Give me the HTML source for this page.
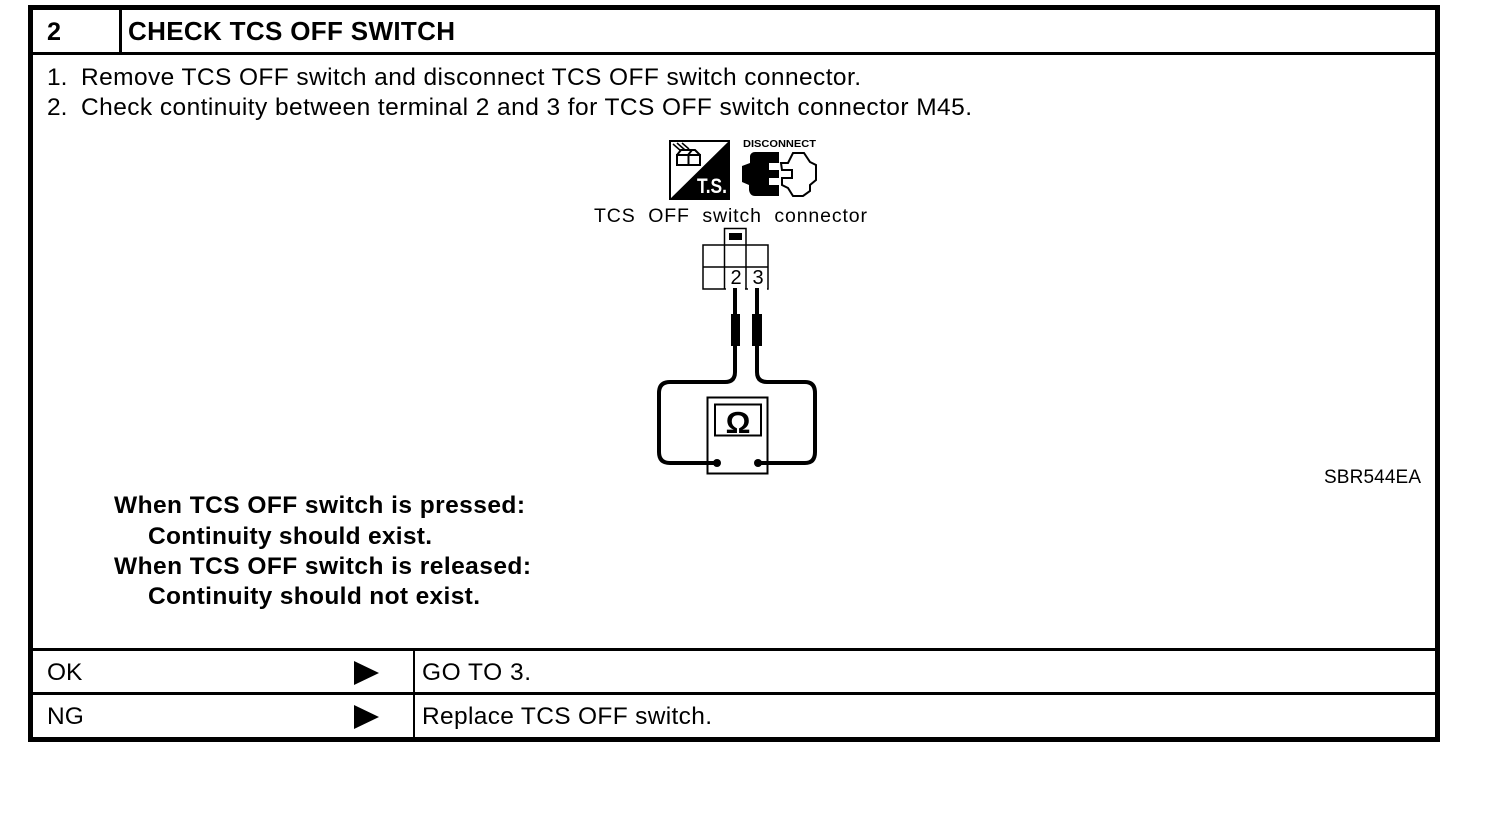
<!DOCTYPE html>
<html>
<head>
<meta charset="utf-8">
<style>
html,body{margin:0;padding:0;background:#fff;width:1504px;height:840px;overflow:hidden}
svg{display:block}
text{font-family:"Liberation Sans",sans-serif;fill:#000}
.b{font-weight:bold}
</style>
</head>
<body>
<svg width="1504" height="840" viewBox="0 0 1504 840" xmlns="http://www.w3.org/2000/svg">
<rect x="30.5" y="7.5" width="1407" height="732" fill="none" stroke="#000" stroke-width="5"/>
<rect x="31" y="52" width="1406" height="3"/>
<rect x="119" y="8" width="3" height="45"/>
<rect x="31" y="648" width="1406" height="3"/>
<rect x="31" y="692" width="1406" height="3"/>
<rect x="413" y="650" width="2" height="88"/>

<text class="b" x="47" y="40" font-size="25" textLength="14" lengthAdjust="spacingAndGlyphs">2</text>
<text class="b" x="128" y="40" font-size="26" textLength="327" lengthAdjust="spacing">CHECK TCS OFF SWITCH</text>
<text x="47" y="85" font-size="24.5">1.</text>
<text x="81" y="85" font-size="24.5" textLength="780" lengthAdjust="spacing">Remove TCS OFF switch and disconnect TCS OFF switch connector.</text>
<text x="47" y="115" font-size="24.5">2.</text>
<text x="81" y="115" font-size="24.5" textLength="891" lengthAdjust="spacing">Check continuity between terminal 2 and 3 for TCS OFF switch connector M45.</text>

<!-- T.S. icon -->
<rect x="670" y="141" width="59" height="58" fill="#fff" stroke="#000" stroke-width="2"/>
<polygon points="730,140 730,200 669,200"/>
<text x="697" y="193" font-size="21" class="b" style="fill:#fff" textLength="30" lengthAdjust="spacingAndGlyphs">T.S.</text>
<g fill="none" stroke="#000" stroke-width="2">
<rect x="677" y="155" width="23" height="10"/>
<line x1="688.5" y1="155" x2="688.5" y2="165"/>
<path d="M677 155l4-5h14l5 5M688 155l4-5"/>
<path d="M673 144l8 7M677 143l8 7M682 143l7 6" stroke-width="1.5"/>
</g>

<!-- Disconnect icon -->
<text class="b" x="743" y="147" font-size="10" textLength="73" lengthAdjust="spacingAndGlyphs">DISCONNECT</text>
<path d="M750 156Q751 152 755 152H779V163H769V170H779V178H769V185H779V196H755Q750 196 749 190V185L742 182V166L750 163Z"/>
<path d="M781 163H788L793 153H804L810 162L816 165V180L810 185V191L803 196H793L788 188L782 185V178H792V170H782Z" fill="#fff" stroke="#000" stroke-width="2"/>

<text x="594" y="222" font-size="19.5" textLength="273" lengthAdjust="spacing" xml:space="preserve">TCS  OFF  switch  connector</text>

<!-- Connector -->
<g fill="none" stroke="#000" stroke-width="1.5">
<path d="M724.5 245V228.5H746V245"/>
<rect x="703" y="245" width="65" height="44"/>
<line x1="703" y1="267" x2="768" y2="267"/>
<line x1="724.5" y1="245" x2="724.5" y2="289"/>
<line x1="746" y1="245" x2="746" y2="289"/>
</g>
<rect x="729" y="233" width="13" height="7"/>
<rect x="726" y="287" width="19" height="3" fill="#fff"/>
<rect x="748" y="287" width="19" height="3" fill="#fff"/>
<text x="736" y="284" font-size="20" text-anchor="middle">2</text>
<text x="758" y="284" font-size="20" text-anchor="middle">3</text>

<!-- Probes and wires -->
<g fill="none" stroke="#000" stroke-width="4">
<path d="M735 288V372Q735 382 725 382H670Q659 382 659 393V452Q659 463 670 463H717"/>
<path d="M757 288V372Q757 382 767 382H805Q815 382 815 393V452Q815 463 805 463H757"/>
</g>
<rect x="731" y="314" width="9" height="32"/>
<rect x="752" y="314" width="10" height="32"/>

<!-- Meter -->
<rect x="707.5" y="397.5" width="60" height="76" fill="none" stroke="#000" stroke-width="2"/>
<rect x="715" y="404.5" width="46" height="31" fill="none" stroke="#000" stroke-width="2"/>
<text class="b" x="738" y="433" font-size="31" text-anchor="middle">Ω</text>
<circle cx="717" cy="463" r="4"/>
<circle cx="758" cy="463" r="4"/>

<text x="1324" y="483" font-size="19" textLength="97" lengthAdjust="spacing">SBR544EA</text>

<text class="b" x="114" y="513" font-size="24.5" textLength="411" lengthAdjust="spacing">When TCS OFF switch is pressed:</text>
<text class="b" x="148" y="544" font-size="24.5" textLength="284" lengthAdjust="spacing">Continuity should exist.</text>
<text class="b" x="114" y="574" font-size="24.5" textLength="417" lengthAdjust="spacing">When TCS OFF switch is released:</text>
<text class="b" x="148" y="604" font-size="24.5" textLength="332" lengthAdjust="spacing">Continuity should not exist.</text>

<text x="47" y="680" font-size="24.5">OK</text>
<text x="47" y="724" font-size="24.5">NG</text>
<polygon points="354,661 379,673 354,685"/>
<polygon points="354,705 379,717 354,729"/>
<text x="422" y="680" font-size="24.5" textLength="109" lengthAdjust="spacing">GO TO 3.</text>
<text x="422" y="724" font-size="24.5" textLength="290" lengthAdjust="spacing">Replace TCS OFF switch.</text>
</svg>
</body>
</html>
